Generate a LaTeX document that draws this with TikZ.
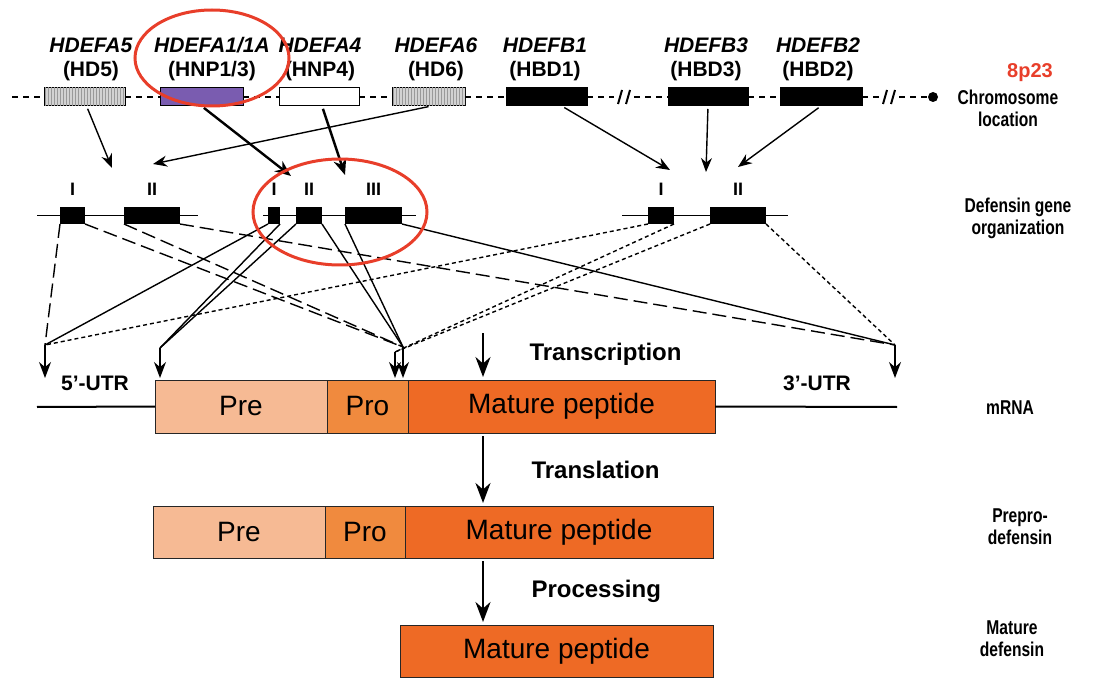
\documentclass[tikz,border=0pt]{standalone}
\usepackage{fontspec}
\setmainfont{Liberation Sans}
\newfontfamily\narrowsans[FakeStretch=0.78]{Liberation Sans}
\usetikzlibrary{arrows.meta,positioning,patterns}
\definecolor{PreCol}{RGB}{246,186,148}
\definecolor{ProCol}{RGB}{240,138,62}
\definecolor{MatCol}{RGB}{238,106,37}
\definecolor{RingRed}{RGB}{232,62,42}
\definecolor{AlphaPurple}{RGB}{122,92,176}

\begin{document}
\begin{tikzpicture}[x=1pt,y=-1pt,
   genebox/.style={draw,line width=1pt,minimum height=18pt,inner sep=0pt,outer sep=0pt},
   hatchbox/.style={genebox,fill=gray!35,postaction={pattern=vertical lines,pattern color=gray!80}},
   exon/.style={fill=black,minimum height=17pt,inner sep=0pt,outer sep=0pt},
   genelbl/.style={align=center,font=\fontsize{21}{24}\selectfont\bfseries},
   roman/.style={font=\fontsize{18}{20}\selectfont\bfseries,inner sep=0pt},
   sidelbl/.style={align=center,font=\narrowsans\fontsize{20}{22}\selectfont\bfseries},
   steplbl/.style={anchor=west,font=\fontsize{24}{26}\selectfont\bfseries},
   utrlbl/.style={font=\fontsize{21}{24}\selectfont\bfseries},
   seg/.style={draw=black!85,line width=0.9pt,minimum height=52pt,inner sep=0pt,outer sep=0pt,
               font=\fontsize{28}{30}\selectfont},
   chromline/.style={line width=2.6pt,dash pattern=on 6pt off 5pt},
   link/.style={line width=1.4pt},
   enteric/.style={line width=1.4pt,dash pattern=on 14pt off 6pt},
   betaline/.style={line width=1.4pt,dash pattern=on 4pt off 3pt},
   into/.style={line width=1.4pt,shorten <=3pt,-{Stealth[length=14pt,width=11pt]}},
   bigInto/.style={line width=2.4pt,shorten <=3pt,-{Stealth[length=16pt,width=13pt]}},
   drop/.style={line width=1.4pt,shorten >=2pt,-{Stealth[length=16pt,width=12pt]}},
   flow/.style={line width=2.4pt,shorten <=3pt,shorten >=3pt,-{Stealth[length=20pt,width=15pt]}},
   ring/.style={RingRed,line width=3pt}]
  \useasboundingbox (0,0) rectangle (1109,679);

  % genes on the chromosome
  \node[hatchbox,minimum width=81pt] (hd5) at (84.5,97) {};
  \node[genebox,fill=AlphaPurple,minimum width=83pt] (hnp) at (201.5,97) {};
  \node[genebox,fill=white,minimum width=80pt] (hnp4) at (319,97) {};
  \node[hatchbox,minimum width=73pt] (hd6) at (428.5,97) {};
  \node[genebox,fill=black,minimum width=81pt] (hbd1) at (546.5,97) {};
  \node[genebox,fill=black,minimum width=80pt] (hbd3) at (708,97) {};
  \node[genebox,fill=black,minimum width=82pt] (hbd2) at (821,97) {};
  \node[circle,fill=black,minimum size=10pt,inner sep=0pt] (cen) at (933,97) {};
  \coordinate (chrL) at (12,97);
  \coordinate (brkA1) at (614,97); \coordinate (brkA2) at (634,97);
  \coordinate (brkB1) at (879,97); \coordinate (brkB2) at (899,97);
  \foreach \a/\b in {chrL/hd5,hd5/hnp,hnp/hnp4,hnp4/hd6,hd6/hbd1,hbd1/brkA1,
                     brkA2/hbd3,hbd3/hbd2,hbd2/brkB1,brkB2/cen}
    \draw[chromline] (\a) -- (\b);
  \foreach \x in {618,626,883,891}
    \draw[line width=2pt] (\x,104) -- (\x+4,90);

  \node[genelbl] (lhd5) at (91,59) {\textit{HDEFA5}\\(HD5)};
  \node[genelbl] (lhnp) at (212,59) {\textit{HDEFA1/1A}\\(HNP1/3)};
  \node[genelbl] (lhnp4) at (320,59) {\textit{HDEFA4}\\(HNP4)};
  \node[genelbl] (lhd6) at (436,59) {\textit{HDEFA6}\\(HD6)};
  \node[genelbl] (lhbd1) at (545,59) {\textit{HDEFB1}\\(HBD1)};
  \node[genelbl] (lhbd3) at (706,59) {\textit{HDEFB3}\\(HBD3)};
  \node[genelbl] (lhbd2) at (818,59) {\textit{HDEFB2}\\(HBD2)};

  % exon layouts
  \node[exon,minimum width=25pt] (aI) at (72.5,215.5) {};
  \node[exon,minimum width=56pt] (aII) at (152,215.5) {};
  \node[exon,minimum width=12pt] (bI) at (274,215.5) {};
  \node[exon,minimum width=26pt] (bII) at (309,215.5) {};
  \node[exon,minimum width=57pt] (bIII) at (373.5,215.5) {};
  \node[exon,minimum width=26pt] (cI) at (661,215.5) {};
  \node[exon,minimum width=56pt] (cII) at (738,215.5) {};
  \draw[link] ([xshift=-23pt]aI.west) -- ([xshift=18pt]aII.east);
  \draw[link] ([xshift=-5pt]bI.west) -- ([xshift=14pt]bIII.east);
  \draw[link] ([xshift=-26pt]cI.west) -- ([xshift=22pt]cII.east);
  \foreach \e/\t in {aI/I,aII/II,bI/I,bII/II,bIII/III,cI/I,cII/II}
    \node[roman,above=11pt of \e] (r\e) {\t};

  % gene -> exon layout arrows
  \coordinate (inA1) at (112,168);
  \coordinate (inA2) at (153,164);
  \coordinate (inB1) at (291,176);
  \coordinate (inB2) at (345,175);
  \coordinate (inC1) at (670,170);
  \coordinate (inC2) at (706,172);
  \coordinate (inC3) at (738,167);
  \draw[into] ([xshift=2pt]hd5.south) -- (inA1);
  \draw[into] ([xshift=3pt]hd6.south) -- (inA2);
  \draw[bigInto] (hnp.south) -- (inB1);
  \draw[bigInto] ([xshift=3pt]hnp4.south) -- (inB2);
  \draw[into] (hbd1) -- (inC1);
  \draw[into] (hbd3.south) -- (inC2);
  \draw[into] (hbd2.south) -- (inC3);

  % mRNA
  \node[seg,fill=PreCol,minimum width=172pt,minimum height=53pt] (mPre) at (241,406.5) {Pre};
  \node[seg,fill=ProCol,minimum width=81pt,minimum height=53pt,right=0pt of mPre] (mPro) {Pro};
  \node[seg,fill=MatCol,minimum width=307pt,minimum height=53pt,right=0pt of mPro] (mMat) {Mature peptide};
  \coordinate (utrL) at (37,407);
  \coordinate (utrR) at (897,407);
  \draw[line width=2pt] (utrL) -- (mPre.west);
  \draw[line width=2pt] (mMat.east) -- (utrR);
  \node[utrlbl] (u5) at (95,383) {5'-UTR};
  \node[utrlbl] (u3) at (817,383) {3'-UTR};

  % exon -> mRNA joins
  \coordinate (j5) at (45,345);
  \coordinate (jPre) at (160,348);
  \coordinate (jProA) at (395,352);
  \coordinate (jProB) at (403,347);
  \coordinate (j3) at (895,345);
  \foreach \s/\t in {aI.south west/j5,aI.south east/jProB,aII.south west/jProB,aII.south east/j3}
    \draw[enteric] (\s) -- (\t);
  \foreach \s/\t in {bI.south west/j5,bI.south east/jPre,bII.south west/jPre,
                     bII.south east/jProB,bIII.south west/jProB,bIII.south east/j3}
    \draw[link] (\s) -- (\t);
  \foreach \s/\t in {cI.south west/j5,cI.south east/jProA,cII.south west/jProA,cII.south east/j3}
    \draw[betaline] (\s) -- (\t);
  \foreach \j in {j5,jPre,jProA,jProB,j3}
    \draw[drop] (\j) -- (\j |- mPre.north);

  % preprodefensin and mature defensin
  \node[seg,fill=PreCol,minimum width=172pt] (pPre) at (239,532) {Pre};
  \node[seg,fill=ProCol,minimum width=80pt,right=0pt of pPre] (pPro) {Pro};
  \node[seg,fill=MatCol,minimum width=308pt,right=0pt of pPro] (pMat) {Mature peptide};
  \node[seg,fill=MatCol,minimum width=313pt] (fMat) at (556.5,651) {Mature peptide};

  \coordinate (tr) at (483,330);
  \draw[flow] (tr) -- (tr |- mMat.north);
  \draw[flow] (tr |- mMat.south) -- (tr |- pMat.north);
  \draw[flow] (tr |- pMat.south) -- (tr |- fMat.north);
  \node[steplbl] (sTrans) at (526,354) {Transcription};
  \node[steplbl] (sTransl) at (528,470) {Translation};
  \node[steplbl] (sProc) at (528,591) {Processing};

  % right-hand captions
  \node[sidelbl,text=RingRed,font=\fontsize{20}{22}\selectfont\bfseries] (band) at (1030,73) {8p23};
  \node[sidelbl] (cLoc) at (1008,108) {Chromosome\\location};
  \node[sidelbl] (cOrg) at (1018,218) {Defensin gene\\organization};
  \node[sidelbl] (cRna) at (1010,408) {mRNA};
  \node[sidelbl] (cPre) at (1020,527) {Prepro-\\defensin};
  \node[sidelbl] (cMat) at (1012,639) {Mature\\defensin};

  % highlight rings
  \draw[ring] (212,58) ellipse [x radius=77pt,y radius=48pt];
  \draw[ring] (340,212) ellipse [x radius=87pt,y radius=53pt];
\end{tikzpicture}
\end{document}
